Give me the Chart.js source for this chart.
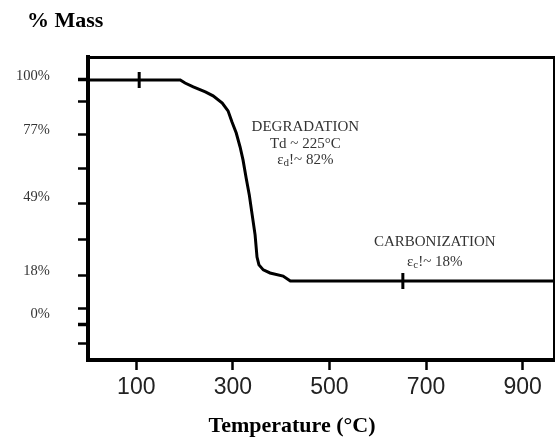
<!DOCTYPE html>
<html>
<head>
<meta charset="utf-8">
<script src="https://cdn.jsdelivr.net/npm/chart.js@4.4.1/dist/chart.umd.min.js"></script>
<style>
html,body{margin:0;padding:0;background:#fff;}
#wrap{width:557px;height:440px;}
</style>
</head>
<body>
<div id="wrap"><canvas id="c" width="557" height="440"></canvas></div>
<script>
// ---- data ----
const temperatureC = [0, 191, 201, 218, 243, 259, 278, 290, 298, 307, 315, 321, 327.5, 334, 340, 346, 350, 354, 363, 377, 404, 419, 965];
const massPct      = [100, 100, 98.7, 97.1, 95.0, 93.3, 90.3, 87.0, 82.4, 77.7, 71.8, 66.4, 58.8, 51.7, 43.3, 34.9, 25.6, 22.3, 20.2, 18.9, 17.6, 15.5, 15.5];
const markerTempC  = [106, 652];
const markerMassPct = [100, 15.5];
const xTickValues  = [100, 300, 500, 700, 900];
const yMarkValues  = [100, 90.8, 77, 62.6, 47.9, 32.8, 18, 3.8, -2.9, -10.9];
const yLabelValues = [100, 77, 49, 18, 0];
const xRange = [0, 965];
const yRange = [-17.65, 109.45];
const titleText = '% Mass';
const xTitleText = 'Temperature (°C)';
const degradationLines = [[['DEGRADATION', '']], [['Td ~ 225°C', '']], [['ε', ''], ['d', 'sub'], ['!~ 82%', '']]];
const carbonizationLines = [[['CARBONIZATION', '']], [['ε', ''], ['c', 'sub'], ['!~ 18%', '']]];

const yTickValues = Array.from(new Set(yMarkValues.concat(yLabelValues))).sort((a, b) => b - a);

const curve = temperatureC.map((t, i) => ({x: t, y: massPct[i]}));
const markers = markerTempC.map((t, i) => ({x: t, y: markerMassPct[i]}));

const notesPlugin = {
  id: 'phaseNotes',
  afterDatasetsDraw(chart, args, opts) {
    const {ctx} = chart;
    const xs = chart.scales.x, ys = chart.scales.y;
    ctx.save();
    ctx.fillStyle = opts.color;
    ctx.textBaseline = 'middle';
    ctx.textAlign = 'left';
    opts.notes.forEach(note => {
      const cx = xs.getPixelForValue(note.x);
      let cy = ys.getPixelForValue(note.y);
      note.lines.forEach(line => {
        const parts = line.map(p => ({text: p[0], sub: p[1] === 'sub'}));
        let total = 0;
        parts.forEach(p => {
          ctx.font = (p.sub ? opts.subSize : opts.size) + 'px "Liberation Serif"';
          p.w = ctx.measureText(p.text).width;
          total += p.w;
        });
        let px = cx - total / 2;
        parts.forEach(p => {
          ctx.font = (p.sub ? opts.subSize : opts.size) + 'px "Liberation Serif"';
          ctx.fillText(p.text, px, cy + (p.sub ? 3 : 0));
          px += p.w;
        });
        cy += note.gap;
      });
    });
    ctx.restore();
  }
};

Chart.defaults.font.family = '"Liberation Serif", serif';

new Chart(document.getElementById('c'), {
  type: 'line',
  data: {
    datasets: [
      {
        data: curve,
        borderColor: '#000',
        borderWidth: 3,
        pointRadius: 0,
        tension: 0,
        fill: false
      },
      {
        type: 'scatter',
        data: markers,
        pointStyle: 'line',
        rotation: 90,
        pointRadius: 8,
        borderWidth: 3,
        borderColor: '#000',
        backgroundColor: '#000'
      }
    ]
  },
  options: {
    responsive: false,
    animation: false,
    devicePixelRatio: 1,
    layout: {autoPadding: false, padding: {left: 27, right: 0, top: 0, bottom: 0}},
    plugins: {
      legend: {display: false},
      tooltip: {enabled: false},
      title: {
        display: true,
        text: titleText,
        align: 'start',
        color: '#000',
        font: {family: '"Liberation Serif", serif', size: 22, weight: 'bold'},
        padding: {top: 8.5, bottom: 19.5}
      },
      subtitle: {
        display: true,
        position: 'bottom',
        text: xTitleText,
        align: 'center',
        color: '#000',
        font: {family: '"Liberation Serif", serif', size: 22, weight: 'bold'},
        padding: {top: 8, bottom: 0}
      },
      phaseNotes: {
        color: '#333',
        size: 15,
        subSize: 11,
        notes: [
          {x: 450, y: 80.25, gap: 16.8, lines: degradationLines},
          {x: 718, y: 31.9, gap: 19.7, lines: carbonizationLines}
        ]
      }
    },
    scales: {
      x: {
        type: 'linear',
        position: 'bottom',
        min: xRange[0],
        max: xRange[1],
        border: {display: true, width: 4, color: '#000'},
        grid: {drawOnChartArea: false, drawTicks: true, tickLength: 10, tickWidth: 2.5, tickColor: '#000', color: '#000'},
        ticks: {
          autoSkip: false,
          maxRotation: 0,
          padding: 4,
          color: '#222',
          font: {family: '"Liberation Sans", sans-serif', size: 23},
          callback: v => String(v)
        },
        afterBuildTicks: s => { s.ticks = xTickValues.map(v => ({value: v})); }
      },
      x2: {
        type: 'linear',
        position: 'top',
        min: xRange[0],
        max: xRange[1],
        border: {display: true, width: 3, color: '#000'},
        grid: {drawOnChartArea: false, drawTicks: false, color: '#000'},
        ticks: {display: false},
        afterFit: s => { s.height = 3; }
      },
      y: {
        type: 'linear',
        position: 'left',
        min: yRange[0],
        max: yRange[1],
        border: {display: true, width: 4, color: '#000'},
        grid: {
          drawOnChartArea: false,
          drawTicks: true,
          tickLength: 10,
          color: '#000',
          tickColor: c => (c.tick && yMarkValues.includes(c.tick.value)) ? '#000' : 'rgba(0,0,0,0)',
          tickWidth: c => (c.tick && (c.tick.value === 100 || c.tick.value === -2.9)) ? 3.5 : 2.5
        },
        ticks: {
          autoSkip: false,
          mirror: true,
          crossAlign: 'far',
          padding: -72,
          labelOffset: -4,
          color: '#333',
          font: {family: '"Liberation Serif", serif', size: 14.5},
          callback: v => yLabelValues.includes(v) ? v + '%' : ''
        },
        afterBuildTicks: s => { s.ticks = yTickValues.map(v => ({value: v})); },
        afterFit: s => { s.width = 61; }
      },
      y2: {
        type: 'linear',
        position: 'right',
        min: yRange[0],
        max: yRange[1],
        border: {display: true, width: 2, color: '#000'},
        grid: {drawOnChartArea: false, drawTicks: false, color: '#000'},
        ticks: {display: false},
        afterFit: s => { s.width = 3; }
      }
    }
  },
  plugins: [notesPlugin]
});
</script>
</body>
</html>
